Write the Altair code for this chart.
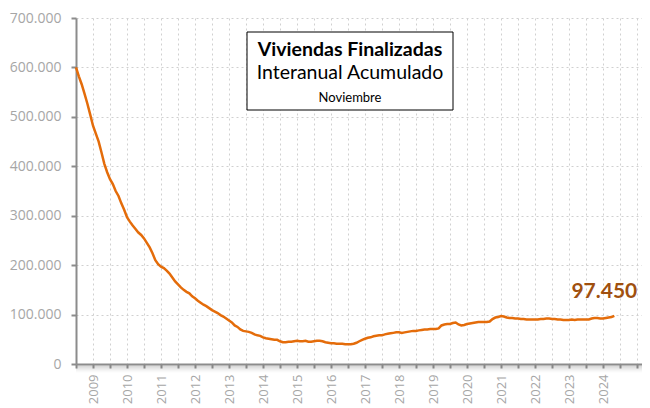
import altair as alt
import pandas as pd

# Monthly values (thousands of dwellings), Jan 2009 .. Nov 2024
v2009 = [600, 582, 566, 547, 527, 505, 482, 466, 450, 428, 405, 388]
v2010 = [374, 364, 350, 340, 325, 312, 297, 288, 280, 273, 266, 261]
v2011 = [254, 245, 236, 224, 210, 202, 197, 194, 189, 183, 175, 167]
v2012 = [161, 155, 150, 146, 143, 137, 133, 128, 124, 120, 117, 113]
v2013 = [109, 106, 103, 99, 96, 92, 88, 84, 78, 75, 70, 67]
v2014 = [66, 65, 63, 60, 58, 57, 54, 52, 51, 50, 49, 49]
v2015 = [46, 44, 44, 45, 45, 46, 47, 46, 46, 47, 45, 45]
v2016 = [46, 47, 47, 46, 44, 43, 42, 42, 41, 41, 41, 40]
v2017 = [40, 40, 41, 43, 46, 49, 51, 53, 54, 56, 57, 58]
v2018 = [58, 60, 61, 62, 63, 64, 64, 63, 64, 65, 66, 67]
v2019 = [67, 68, 69, 70, 70, 71, 71, 71, 72, 78, 80, 81]
v2020 = [81, 83, 84, 80, 78, 79, 81, 82, 83, 84, 85, 85]
v2021 = [85, 85, 86, 91, 94, 95, 97, 96, 94, 93, 93, 92]
v2022 = [92, 91, 91, 90, 90, 90, 90, 90, 91, 91, 92, 92]
v2023 = [91, 91, 90, 90, 89, 89, 89, 90, 89, 90, 90, 90]
v2024 = [90, 90, 92, 93, 93, 92, 92, 93, 94, 95, 97.45]

years = list(range(2009, 2025))
series = [v2009, v2010, v2011, v2012, v2013, v2014, v2015, v2016,
          v2017, v2018, v2019, v2020, v2021, v2022, v2023, v2024]

title_lines = ["Viviendas Finalizadas", "Interanual Acumulado", "Noviembre"]
y_ticks = [0, 100000, 200000, 300000, 400000, 500000, 600000, 700000]
x_ticks = [2009 + 0.5 * i for i in range(34)]

rows = []
for yr, vals in zip(years, series):
    for m, v in enumerate(vals):
        rows.append({"t": yr + m / 12.0, "v": round(v * 1000)})
df = pd.DataFrame(rows)
last = df.tail(1).copy()
last["lab"] = last["v"].map(lambda x: f"{x:,}".replace(",", "."))

W, H = 566, 346
XMAX = 2009 + W / 34.0

AXIS_GRAY = "#8c8c8c"
LABEL_GRAY = "#a6a6a6"
GRID = "#d0d0d0"

xscale = alt.Scale(domain=[2009, XMAX], nice=False, zero=False)
yscale = alt.Scale(domain=[0, 700000], nice=False)

xaxis = alt.Axis(
    values=x_ticks,
    labelExpr="(datum.value % 1 == 0.5 && datum.value < 2025) ? toString(floor(datum.value)) : ''",
    labelAngle=-90, labelAlign="right", labelBaseline="middle",
    labelFont="Open Sans", labelFontSize=13, labelColor=LABEL_GRAY,
    labelPadding=6, labelOverlap=False, labelFlush=False, labelBound=False,
    tickSize=4, tickColor=AXIS_GRAY, tickWidth=2,
    domainColor=AXIS_GRAY, domainWidth=2,
    grid=True, gridColor=GRID, gridDash=[2, 3], gridWidth=1,
    title=None,
)
yaxis = alt.Axis(
    values=y_ticks,
    labelExpr="replace(format(datum.value, ','), ',', '.')",
    labelFont="Open Sans", labelFontSize=14, labelColor=LABEL_GRAY,
    labelPadding=10,
    tickSize=5, tickColor=AXIS_GRAY, tickWidth=2,
    domainColor=AXIS_GRAY, domainWidth=2,
    grid=True, gridColor=GRID, gridDash=[2, 3], gridWidth=1,
    title=None,
)

base = alt.Chart(df)

line = base.mark_line(color="#e46c0a", strokeWidth=2.5).encode(
    x=alt.X("t:Q", scale=xscale, axis=xaxis),
    y=alt.Y("v:Q", scale=yscale, axis=yaxis),
)

one = pd.DataFrame({"a": [0]})
shadows = []
for k, op in enumerate([0.35, 0.28, 0.21, 0.15, 0.1, 0.06, 0.03]):
    shadows.append(
        alt.Chart(one).mark_rule(color="#7f7f7f", strokeWidth=1, opacity=op,
                                 yOffset=2 + k)
        .encode(x=alt.value(0), x2=alt.value(W), y=alt.value(H))
    )

box = alt.Chart(one).mark_rect(fill="white", stroke="black", strokeWidth=1).encode(
    x=alt.value(171), x2=alt.value(377), y=alt.value(14), y2=alt.value(92)
)
t1 = alt.Chart(one).mark_text(font="Lato", fontWeight="bold", fontSize=19.5,
                              color="black", baseline="middle").encode(
    x=alt.value(274), y=alt.value(32), text=alt.value(title_lines[0]))
t2 = alt.Chart(one).mark_text(font="Lato", fontSize=19.5,
                              color="black", baseline="middle").encode(
    x=alt.value(274), y=alt.value(55), text=alt.value(title_lines[1]))
t3 = alt.Chart(one).mark_text(font="Lato", fontSize=13,
                              color="black", baseline="middle").encode(
    x=alt.value(274), y=alt.value(80), text=alt.value(title_lines[2]))

vlabel = alt.Chart(last).mark_text(font="Lato", fontWeight="bold", fontSize=21,
                                   color="#a0500f", align="center",
                                   baseline="alphabetic", dx=-10, dy=-18).encode(
    x=alt.X("t:Q", scale=xscale, axis=xaxis),
    y=alt.Y("v:Q", scale=yscale, axis=yaxis),
    text="lab:N")

chart = alt.layer(*shadows, line, box, t1, t2, t3, vlabel).properties(
    width=W, height=H,
    padding={"left": 68, "top": 10, "right": 0, "bottom": 42},
    autosize="none",
).configure_view(stroke=None)

chart.save("out.html", embed_options={"renderer": "svg", "actions": False})
